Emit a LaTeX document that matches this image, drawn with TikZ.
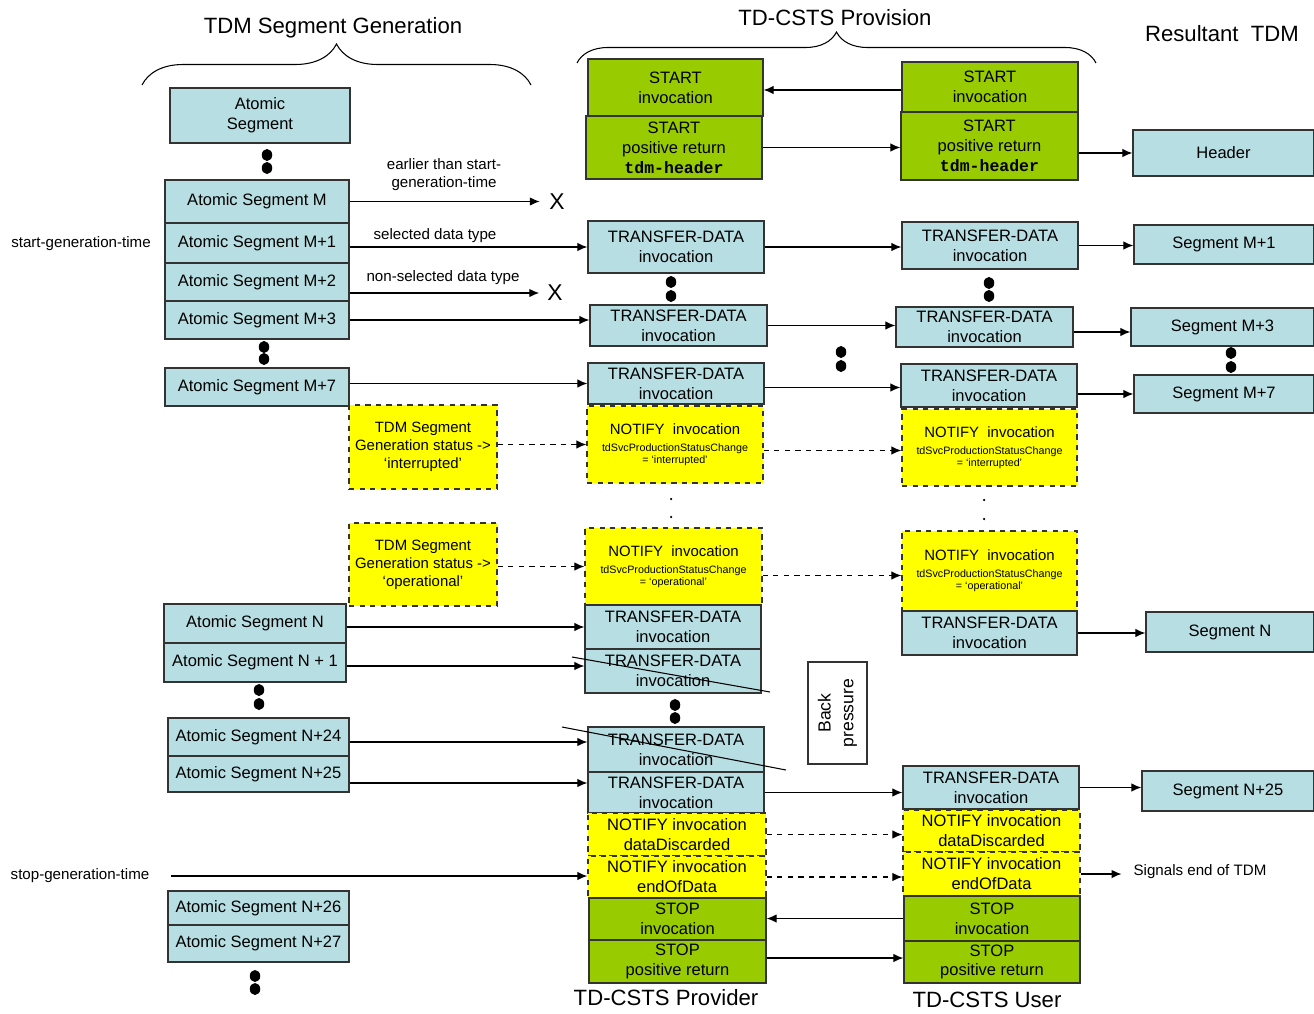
\documentclass[tikz,border=0pt]{standalone}
\usepackage{fontspec}
\setmainfont{Liberation Sans}
\newfontfamily\hdrfont{Liberation Mono}
\usetikzlibrary{arrows.meta,decorations.pathreplacing}

\definecolor{segblue}{RGB}{183,222,226}
\definecolor{opgreen}{RGB}{153,204,0}
\definecolor{ntfyellow}{RGB}{255,255,0}

\tikzset{
  seg/.style={draw=black!80, fill=segblue, line width=.75pt, inner sep=2pt, align=center, font=\fontsize{9.4}{11.3}\selectfont},
  opgrn/.style={seg, fill=opgreen},
  ntf/.style={seg, fill=ntfyellow, dashed},
  ntfsm/.style={ntf, font=\fontsize{8.5}{10.2}\selectfont},
  ntfsub/.style={ntf, font=\fontsize{6.1}{6.9}\selectfont},
  lbl/.style={font=\fontsize{8.6}{10.2}\selectfont, align=center, inner sep=1pt},
  ttl/.style={font=\fontsize{12.6}{15}\selectfont, inner sep=0pt},
  xmark/.style={font=\fontsize{13}{15}\selectfont, inner sep=1pt},
  msg/.style={arrows={-Latex[length=2mm, width=1.7mm]}, line width=.7pt},
  ntfmsg/.style={msg, dashed}
}

\begin{document}
\begin{tikzpicture}[x=0.2mm, y=-0.2mm]
\useasboundingbox (0,0) rectangle (1314,1013);

%titles
\node[ttl] at (333,28) (tGen) {TDM Segment Generation};
\node[ttl] at (835,18) (tProv) {TD-CSTS Provision};
\node[ttl] at (1222,34) (tRes) {Resultant\ \ TDM};
\node[ttl] at (666,998) (tProvider) {TD-CSTS Provider};
\node[ttl] at (987,1000) (tUser) {TD-CSTS User};
\draw[decorate, decoration={brace, amplitude=8.2mm}, line width=.6pt] (142,85) -- (531,85);
\draw[decorate, decoration={brace, amplitude=6.2mm}, line width=.6pt] (577,63) -- (1096,63);

%segment generation
\node[seg, minimum width=36mm, minimum height=11mm] at (260,115.5) (aseg) {Atomic\\Segment};
\node[seg, minimum width=36.8mm, minimum height=8.6mm] at (257,201.5) (sM) {Atomic Segment M};
\node[seg, minimum width=36.8mm, minimum height=8mm] at (257,243) (sM1) {Atomic Segment M+1};
\node[seg, minimum width=36.8mm, minimum height=7.6mm] at (257,282) (sM2) {Atomic Segment M+2};
\node[seg, minimum width=36.8mm, minimum height=7.6mm] at (257,320) (sM3) {Atomic Segment M+3};
\node[seg, minimum width=36.8mm, minimum height=7.6mm] at (257,387) (sM7) {Atomic Segment M+7};
\node[ntfsm, minimum width=29.6mm, minimum height=16.8mm] at (423,447) (stat1) {TDM Segment\\Generation status ->\\‘interrupted’};
\node[ntfsm, minimum width=29.6mm, minimum height=16.6mm] at (423,564.5) (stat2) {TDM Segment\\Generation status ->\\‘operational’};
\node[seg, minimum width=36.4mm, minimum height=7.8mm] at (255,623.5) (sN) {Atomic Segment N};
\node[seg, minimum width=36.4mm, minimum height=7.8mm] at (255,662.5) (sN1) {Atomic Segment N + 1};
\node[seg, minimum width=36.2mm, minimum height=7.6mm] at (258.5,737) (sN24) {Atomic Segment N+24};
\node[seg, minimum width=36.2mm, minimum height=7.2mm] at (258.5,774) (sN25) {Atomic Segment N+25};
\node[seg, minimum width=36.2mm, minimum height=6.8mm] at (258.5,908) (sN26) {Atomic Segment N+26};
\node[seg, minimum width=36.2mm, minimum height=7.4mm] at (258.5,943.5) (sN27) {Atomic Segment N+27};

\node[lbl] at (444,175) (lEarly) {earlier than start-\\generation-time};
\node[lbl] at (435,236) (lSel) {selected data type};
\node[lbl] at (443,278) (lNonsel) {non-selected data type};
\node[lbl] at (81,244) (lStartT) {start-generation-time};
\node[lbl] at (80,876) (lStopT) {stop-generation-time};
\node[xmark] at (557,202) (xM) {X};
\node[xmark] at (555,293) (xM2) {X};

%provider
\node[opgrn, minimum width=35mm, minimum height=11.4mm] at (675.5,87.5) (pStart) {START\\invocation};
\node[opgrn, minimum width=35.2mm, minimum height=12.6mm] at (674,147.5) (pStartR) {START\\positive return\\{\hdrfont\bfseries tdm-header}};
\node[seg, minimum width=35.2mm, minimum height=10.4mm] at (676,247) (pT1) {TRANSFER-DATA\\invocation};
\node[seg, minimum width=35.4mm, minimum height=8.2mm] at (678.5,325.5) (pT2) {TRANSFER-DATA\\invocation};
\node[seg, minimum width=35.2mm, minimum height=8.2mm] at (676,383.5) (pT3) {TRANSFER-DATA\\invocation};
\node[ntfsub, minimum width=35.2mm, minimum height=15.4mm] at (675,444.5) (pNi) {{\fontsize{8.5}{10}\selectfont NOTIFY\ \ invocation}\\[2.7pt]tdSvcProductionStatusChange\\= ‘interrupted’};
\node[ntfsub, minimum width=35.4mm, minimum height=15.4mm] at (673.5,566.5) (pNo) {{\fontsize{8.5}{10}\selectfont NOTIFY\ \ invocation}\\[2.7pt]tdSvcProductionStatusChange\\= ‘operational’};
\node[seg, minimum width=35.2mm, minimum height=8.8mm] at (673,627) (pT4) {TRANSFER-DATA\\invocation};
\node[seg, minimum width=35.2mm, minimum height=8.8mm] at (673,671) (pT5) {TRANSFER-DATA\\invocation};
\node[seg, minimum width=35.2mm, minimum height=9mm] at (676,749.5) (pT6) {TRANSFER-DATA\\invocation};
\node[seg, minimum width=35.2mm, minimum height=8.2mm] at (676,792.5) (pT7) {TRANSFER-DATA\\invocation};
\node[ntf, minimum width=35.6mm, minimum height=8.6mm] at (677,834.5) (pDd) {NOTIFY invocation\\dataDiscarded};
\node[ntf, minimum width=35.6mm, minimum height=8.4mm] at (677,877) (pEnd) {NOTIFY invocation\\endOfData};
\node[opgrn, minimum width=35.4mm, minimum height=8.4mm] at (677.5,919) (pStop) {STOP\\invocation};
\node[opgrn, minimum width=35.4mm, minimum height=8.6mm] at (677.5,961.5) (pStopR) {STOP\\positive return};

%user
\node[opgrn, minimum width=35.2mm, minimum height=10mm] at (990,87) (uStart) {START\\invocation};
\node[opgrn, minimum width=35.4mm, minimum height=13.6mm] at (989.5,146) (uStartR) {START\\positive return\\{\hdrfont\bfseries tdm-header}};
\node[seg, minimum width=35.2mm, minimum height=9.4mm] at (990,245.5) (uT1) {TRANSFER-DATA\\invocation};
\node[seg, minimum width=35.4mm, minimum height=8mm] at (984.5,327) (uT2) {TRANSFER-DATA\\invocation};
\node[seg, minimum width=35.2mm, minimum height=8.6mm] at (989,385.5) (uT3) {TRANSFER-DATA\\invocation};
\node[ntfsub, minimum width=35mm, minimum height=15.4mm] at (989.5,447.5) (uNi) {{\fontsize{8.5}{10}\selectfont NOTIFY\ \ invocation}\\[2.7pt]tdSvcProductionStatusChange\\= ‘interrupted’};
\node[ntfsub, minimum width=35mm, minimum height=16mm] at (989.5,571) (uNo) {{\fontsize{8.5}{10}\selectfont NOTIFY\ \ invocation}\\[2.7pt]tdSvcProductionStatusChange\\= ‘operational’};
\node[seg, minimum width=35mm, minimum height=8.8mm] at (989.5,633) (uT4) {TRANSFER-DATA\\invocation};
\node[seg, minimum width=35.2mm, minimum height=8.6mm] at (991,787.5) (uT5) {TRANSFER-DATA\\invocation};
\node[ntf, minimum width=35.4mm, minimum height=8.4mm] at (991.5,831) (uDd) {NOTIFY invocation\\dataDiscarded};
\node[ntf, minimum width=35.4mm, minimum height=8.8mm] at (991.5,874) (uEnd) {NOTIFY invocation\\endOfData};
\node[opgrn, minimum width=35.2mm, minimum height=9mm] at (992,918.5) (uStop) {STOP\\invocation};
\node[opgrn, minimum width=35.2mm, minimum height=8.4mm] at (992,962) (uStopR) {STOP\\positive return};
\node[draw=black!80, fill=white, line width=.75pt, rotate=90, minimum width=20.4mm, minimum height=11.8mm, align=center, font=\fontsize{10}{13}\selectfont] at (837.5,713) (back) {Back\\pressure};

%resultant tdm
\node[seg, minimum width=36.2mm, minimum height=9.2mm] at (1223.5,153) (rHead) {Header};
\node[seg, minimum width=36mm, minimum height=7.8mm] at (1224,244.5) (rM1) {Segment M+1};
\node[seg, minimum width=36.6mm, minimum height=7.6mm] at (1222.5,327) (rM3) {Segment M+3};
\node[seg, minimum width=36mm, minimum height=7.6mm] at (1224,394) (rM7) {Segment M+7};
\node[seg, minimum width=33.6mm, minimum height=8mm] at (1230,632) (rN) {Segment N};
\node[seg, minimum width=34.4mm, minimum height=8mm] at (1228,791) (rN25) {Segment N+25};
\node[lbl] at (1200,872) (lSignals) {Signals end of TDM};

%continuation dots
\fill (267,155) ellipse (1.05mm and 1.2mm) (267,168) ellipse (1.05mm and 1.2mm);
\fill (264,347) ellipse (1.05mm and 1.2mm) (264,359) ellipse (1.05mm and 1.2mm);
\fill (259,690) ellipse (1.05mm and 1.2mm) (259,704) ellipse (1.05mm and 1.2mm);
\fill (255,976) ellipse (1.05mm and 1.2mm) (255,989) ellipse (1.05mm and 1.2mm);
\fill (671,282) ellipse (1.05mm and 1.2mm) (671,296) ellipse (1.05mm and 1.2mm);
\fill (989,283) ellipse (1.05mm and 1.2mm) (989,296) ellipse (1.05mm and 1.2mm);
\fill (841,352) ellipse (1.05mm and 1.2mm) (841,366) ellipse (1.05mm and 1.2mm);
\fill (1231,353) ellipse (1.05mm and 1.2mm) (1231,367) ellipse (1.05mm and 1.2mm);
\fill (675,705) ellipse (1.05mm and 1.2mm) (675,718) ellipse (1.05mm and 1.2mm);
\fill (671,499) circle (0.25mm) (671,517) circle (0.25mm);
\fill (984,500) circle (0.25mm) (984,519) circle (0.25mm);

%generation -> provider
\draw[msg, shorten >=1.5mm] (sM.east) -- (sM.east -| xM.west);
\draw[msg] (pT1.west -| sM1.east) -- (pT1.west);
\draw[msg, shorten >=1.2mm] (xM2.west -| sM2.east) -- (xM2.west);
\draw[msg] (sM3.east) -- (sM3.east -| pT2.west);
\draw[msg] (pT3.west -| sM7.east) -- (pT3.west);
\draw[ntfmsg] (pNi.west -| stat1.east) -- (pNi.west);
\draw[ntfmsg] (pNo.west -| stat2.east) -- (pNo.west);
\draw[msg] (pT4.west -| sN.east) -- (pT4.west);
\draw[msg] ([yshift=-0.7mm]sN1.east) -- ([yshift=-0.7mm]sN1.east -| pT5.west);
\draw[msg] ([yshift=-1mm]sN24.east) -- ([yshift=-1mm]sN24.east -| pT6.west);
\draw[msg] ([yshift=-1.8mm]sN25.east) -- ([yshift=-1.8mm]sN25.east -| pT7.west);
\draw[msg, shorten <=4mm] (lStopT.east) -- (lStopT.east -| pEnd.west);
%crossed out by back pressure
\draw[line width=.6pt] (572,657) -- (770,692);
\draw[line width=.6pt] (562,727) -- (786,770);

%provider <-> user
\draw[msg] ([yshift=-0.6mm]uStart.west) -- ([yshift=-0.6mm]uStart.west -| pStart.east);
\draw[msg] (pStartR.east) -- (pStartR.east -| uStartR.west);
\draw[msg] (pT1.east) -- (pT1.east -| uT1.west);
\draw[msg] (pT2.east) -- (pT2.east -| uT2.west);
\draw[msg] ([yshift=-0.8mm]pT3.east) -- ([yshift=-0.8mm]pT3.east -| uT3.west);
\draw[ntfmsg] ([yshift=-1.2mm]pNi.east) -- ([yshift=-1.2mm]pNi.east -| uNi.west);
\draw[ntfmsg] ([yshift=-1.8mm]pNo.east) -- ([yshift=-1.8mm]pNo.east -| uNo.west);
\draw[msg] (pT7.east) -- (pT7.east -| uT5.west);
\draw[ntfmsg] (pDd.east) -- (pDd.east -| uDd.west);
\draw[ntfmsg] (pEnd.east) -- (pEnd.east -| uEnd.west);
\draw[msg] (uStop.west) -- (uStop.west -| pStop.east);
\draw[msg] ([yshift=0.7mm]pStopR.east) -- ([yshift=0.7mm]pStopR.east -| uStopR.west);

%user -> resultant tdm
\draw[msg] (rHead.west -| uStartR.east) -- (rHead.west);
\draw[msg] (uT1.east) -- (uT1.east -| rM1.west);
\draw[msg] ([yshift=-1mm]uT2.east) -- ([yshift=-1mm]uT2.east -| rM3.west);
\draw[msg] (rM7.west -| uT3.east) -- (rM7.west);
\draw[msg] (uT4.east) -- (uT4.east -| rN.west);
\draw[msg] (uT5.east) -- (uT5.east -| rN25.west);
\draw[msg, shorten >=2mm] (uEnd.east) -- (uEnd.east -| lSignals.west);

\end{tikzpicture}
\end{document}
